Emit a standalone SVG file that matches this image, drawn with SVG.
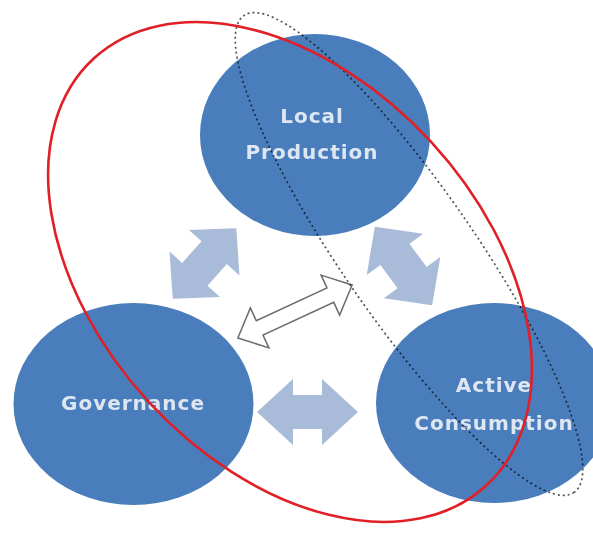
<svg xmlns="http://www.w3.org/2000/svg" width="593" height="540" viewBox="0 0 593 540">
<style>
.node{fill:#4a7dbb;}
.lbl{font-family:"DejaVu Sans","Liberation Sans",sans-serif;font-weight:bold;font-size:20px;fill:#dde6f2;text-anchor:middle;letter-spacing:1px;}
.fat{fill:#a8bbd9;}
.thin{fill:#ffffff;stroke:#6b6b6b;stroke-width:1.5;stroke-linejoin:miter;}
.red{fill:none;stroke:#e01f26;stroke-width:2.6;}
.dot{fill:none;stroke:#555555;stroke-width:1.7;stroke-dasharray:2 3;mix-blend-mode:multiply;}
</style>
<rect width="593" height="540" fill="#ffffff"/>
<g id="local-production">
<ellipse class="node" cx="315" cy="135" rx="115" ry="101"/>
<text class="lbl" x="312" y="123">Local</text>
<text class="lbl" x="312" y="159">Production</text>
</g>
<g id="governance">
<ellipse class="node" cx="133.5" cy="404" rx="120" ry="101"/>
<text class="lbl" x="133" y="410">Governance</text>
</g>
<g id="active-consumption">
<ellipse class="node" cx="494" cy="403" rx="118" ry="100"/>
<text class="lbl" x="494" y="392">Active</text>
<text class="lbl" x="494" y="430">Consumption</text>
</g>
<g id="connectors">
<path class="fat" transform="translate(204.5,263.5) rotate(-48)" d="M -47.5,0 L -14.5,-34 L -14.5,-17 L 14.5,-17 L 14.5,-34 L 47.5,0 L 14.5,34 L 14.5,17 L -14.5,17 L -14.5,34 Z"/>
<path class="fat" transform="translate(403.5,266) rotate(53.8)" d="M -48.5,0 L -14.5,-35 L -14.5,-18 L 14.5,-18 L 14.5,-35 L 48.5,0 L 14.5,35 L 14.5,18 L -14.5,18 L -14.5,35 Z"/>
<path class="fat" transform="translate(307.5,412)" d="M -50.5,0 L -14.5,-33 L -14.5,-17 L 14.5,-17 L 14.5,-33 L 50.5,0 L 14.5,33 L 14.5,17 L -14.5,17 L -14.5,33 Z"/>
<path class="thin" transform="translate(295,311.5) rotate(-24.9)" d="M -63,0 L -39,-22 L -39,-8 L 39,-8 L 39,-22 L 63,0 L 39,22 L 39,8 L -39,8 L -39,22 Z"/>
</g>
<g id="groupings">
<ellipse class="dot" cx="409" cy="254" rx="290" ry="66" transform="rotate(55.3 409 254)"/>
<ellipse class="red" cx="290" cy="272" rx="290" ry="192" transform="rotate(47.4 290 272)"/>
</g>
</svg>
